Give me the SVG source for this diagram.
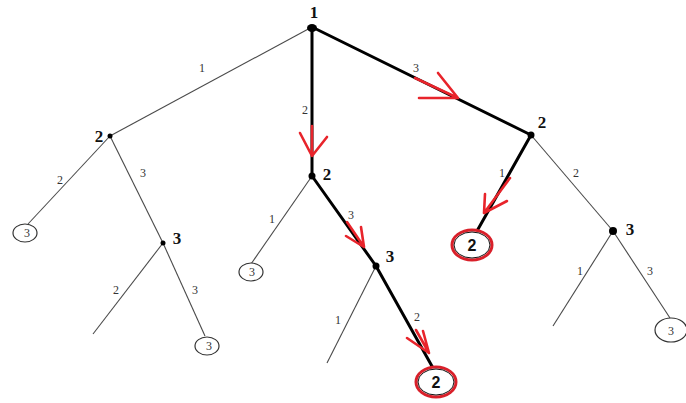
<svg xmlns="http://www.w3.org/2000/svg" width="686" height="403" viewBox="0 0 686 403">
  <style>
    .thin { stroke: #4a4a4a; stroke-width: 1.1; fill: none; }
    .thick { stroke: #000; stroke-width: 3; fill: none; stroke-linecap: round; }
    .red { stroke: #e8242b; stroke-width: 2.6; fill: none; stroke-linecap: round; stroke-linejoin: round; }
    .elabel { font-family: "Liberation Serif", serif; font-size: 12px; fill: #333; text-anchor: middle; }
    .nlabel { font-family: "Liberation Serif", serif; font-size: 17px; font-weight: bold; fill: #111; text-anchor: middle; }
    .leaf { fill: #fff; stroke: #333; stroke-width: 1.2; }
    .leaftxt { font-family: "Liberation Serif", serif; font-size: 12px; fill: #333; text-anchor: middle; }
    .goal { fill: #fff; stroke: #d9202a; stroke-width: 3; }
    .goalin { fill: none; stroke: #111; stroke-width: 1; }
    .goaltxt { font-family: "Liberation Sans", sans-serif; font-size: 16px; font-weight: bold; fill: #111; text-anchor: middle; }
    .dot { fill: #000; }
  </style>

  <!-- connectors -->
  <g id="connectors">
    <line class="thin" x1="312" y1="27" x2="110" y2="136"/>
    <line class="thick" x1="312" y1="27" x2="312" y2="176"/>
    <line class="thick" x1="312" y1="27" x2="531" y2="135"/>

    <line class="thin" x1="110" y1="136" x2="28" y2="224"/>
    <line class="thin" x1="110" y1="136" x2="163" y2="243"/>
    <line class="thin" x1="163" y1="243" x2="93" y2="334"/>
    <line class="thin" x1="163" y1="243" x2="205" y2="336"/>

    <line class="thin" x1="312" y1="176" x2="251" y2="264"/>
    <line class="thick" x1="312" y1="176" x2="376" y2="266"/>
    <line class="thin" x1="376" y1="266" x2="327" y2="363"/>
    <line class="thick" x1="376" y1="266" x2="433" y2="368"/>

    <line class="thick" x1="531" y1="135" x2="477" y2="231"/>
    <line class="thin" x1="531" y1="135" x2="613" y2="231"/>
    <line class="thin" x1="613" y1="231" x2="553" y2="326"/>
    <line class="thin" x1="613" y1="231" x2="670" y2="318"/>

    <!-- path arrows -->
    <path class="red" d="M312 126 L312 156 M300 133 L312 156 L327 137"/>
    <path class="red" d="M415 78 L458 98 M438 73 L458 98 L419 98"/>
    <path class="red" d="M510 178 L484 213 M485 194 L484 213 L507 201"/>
    <path class="red" d="M347 222 L364 247 M346 236 L364 247 L361 227"/>
    <path class="red" d="M416 330 L429 353 M407 338 L429 353 L423 331"/>

    <!-- edge weights -->
    <text class="elabel" x="202" y="72">1</text>
    <text class="elabel" x="305" y="114">2</text>
    <text class="elabel" x="416" y="72">3</text>
    <text class="elabel" x="60" y="184">2</text>
    <text class="elabel" x="143" y="177">3</text>
    <text class="elabel" x="116" y="294">2</text>
    <text class="elabel" x="195" y="294">3</text>
    <text class="elabel" x="272" y="223">1</text>
    <text class="elabel" x="351" y="219">3</text>
    <text class="elabel" x="338" y="324">1</text>
    <text class="elabel" x="417" y="321">2</text>
    <text class="elabel" x="502" y="177">1</text>
    <text class="elabel" x="576" y="177">2</text>
    <text class="elabel" x="580" y="275">1</text>
    <text class="elabel" x="650" y="275">3</text>
  </g>

  <g id="n-root">
    <ellipse class="dot" cx="312" cy="28" rx="5" ry="4"/>
    <text class="nlabel" x="314" y="18">1</text>
  </g>
  <g id="n-a">
    <circle class="dot" cx="110" cy="136" r="2.5"/>
    <text class="nlabel" x="99" y="142">2</text>
  </g>
  <g id="n-b">
    <circle class="dot" cx="312" cy="176" r="3.5"/>
    <text class="nlabel" x="327" y="180">2</text>
  </g>
  <g id="n-c">
    <circle class="dot" cx="531" cy="135" r="3.5"/>
    <text class="nlabel" x="542" y="128">2</text>
  </g>
  <g id="n-d">
    <circle class="dot" cx="163" cy="243" r="2.5"/>
    <text class="nlabel" x="177" y="244">3</text>
  </g>
  <g id="n-e">
    <circle class="dot" cx="376" cy="266" r="3.5"/>
    <text class="nlabel" x="390" y="262">3</text>
  </g>
  <g id="n-f">
    <circle class="dot" cx="613" cy="231" r="4"/>
    <text class="nlabel" x="630" y="235">3</text>
  </g>

  <g id="leaf-1">
    <ellipse class="leaf" cx="25" cy="233" rx="12" ry="9"/>
    <text class="leaftxt" x="27" y="237">3</text>
  </g>
  <g id="leaf-2">
    <ellipse class="leaf" cx="207" cy="346" rx="12" ry="9"/>
    <text class="leaftxt" x="209" y="350">3</text>
  </g>
  <g id="leaf-3">
    <ellipse class="leaf" cx="251" cy="272" rx="12" ry="9"/>
    <text class="leaftxt" x="252" y="276">3</text>
  </g>
  <g id="leaf-4">
    <ellipse class="leaf" cx="671" cy="330" rx="16" ry="12"/>
    <text class="leaftxt" x="671" y="335">3</text>
  </g>
  <g id="goal-1">
    <ellipse class="goal" cx="472" cy="245" rx="20" ry="15"/>
    <ellipse class="goalin" cx="472" cy="245" rx="18" ry="13"/>
    <text class="goaltxt" x="472" y="251">2</text>
  </g>
  <g id="goal-2">
    <ellipse class="goal" cx="436" cy="382" rx="20" ry="15"/>
    <ellipse class="goalin" cx="436" cy="382" rx="18" ry="13"/>
    <text class="goaltxt" x="436" y="388">2</text>
  </g>
</svg>
